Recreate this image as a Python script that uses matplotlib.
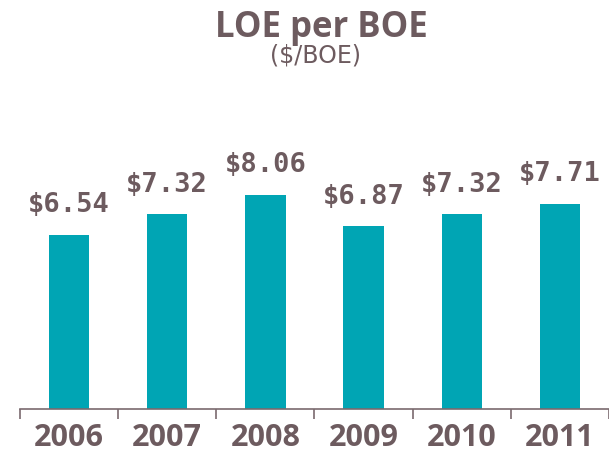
import matplotlib
matplotlib.use("Agg")
import matplotlib.pyplot as plt
import numpy as np

years = ["2006", "2007", "2008", "2009", "2010", "2011"]
values = [6.54, 7.32, 8.06, 6.87, 7.32, 7.71]
labels = ["$6.54", "$7.32", "$8.06", "$6.87", "$7.32", "$7.71"]

text_color = "#6d5b5f"
bar_color = "#00a5b4"

W, H = 609, 459
fig = plt.figure(figsize=(W / 100, H / 100), dpi=100)
ax = fig.add_axes([20 / W, (H - 409) / H, 589 / W, (409 - 130) / H])

x = np.arange(len(years))
ax.bar(x, values, width=0.41, color=bar_color, zorder=2)
ax.set_xlim(-0.5, 5.39)
ax.set_ylim(0, (409 - 130) / 26.6)

for xi, v, lab in zip(x, values, labels):
    ax.annotate(lab, (xi, v), xytext=(0, 12), textcoords="offset points",
                ha="center", va="bottom", fontsize=19.5, fontweight="bold",
                family="DejaVu Sans Mono", color=text_color)

for s in ["top", "right", "left"]:
    ax.spines[s].set_visible(False)
ax.spines["bottom"].set_color("#7a6a6e")
ax.spines["bottom"].set_linewidth(1.2)
ax.set_yticks([])
ax.set_xticks(np.arange(-0.5, 5.6, 1.0), minor=True)
ax.tick_params(axis="x", which="minor", length=7, width=1.2, color="#7a6a6e")
ax.set_xticks(x)
ax.set_xticklabels(years, fontsize=22, fontweight="bold", color=text_color,
                   family="Open Sans")
ax.tick_params(axis="x", which="major", length=0, pad=10)

fig.text(321 / W, 1 - 37 / H, "LOE per BOE", ha="center", va="baseline",
         fontsize=25, fontweight="bold", color=text_color, family="Open Sans")
fig.text(315 / W, 1 - 63 / H, "($/BOE)", ha="center", va="baseline",
         fontsize=17, color=text_color)

fig.savefig("out.png", dpi=100)
